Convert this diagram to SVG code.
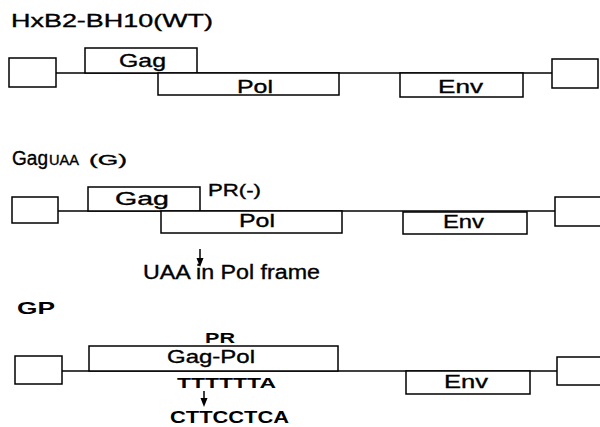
<svg xmlns="http://www.w3.org/2000/svg" width="600" height="427" viewBox="0 0 600 427">
<style>
.bx{fill:#fff;stroke:#000;stroke-width:1.5}
line{stroke:#000;stroke-width:1.5}
.ah{fill:#000}
text{font-family:"Liberation Sans",Arial,sans-serif;fill:#000;stroke:#000;stroke-width:0.35}
.b{font-weight:bold;stroke-width:0}
</style>
<rect width="600" height="427" fill="#fff"/>
<g id="connectors">
<line x1="56" y1="73" x2="552" y2="73"/>
<line x1="58" y1="211" x2="555" y2="211"/>
<line x1="62" y1="371" x2="557" y2="371"/>
<line x1="200" y1="249" x2="200" y2="260"/>
<path class="ah" d="M196.5,258 L203.5,258 L200,267 Z"/>
<line x1="204" y1="391" x2="204" y2="400"/>
<path class="ah" d="M200.5,398 L207.5,398 L204,407 Z"/>
</g>
<g id="row1">
<text id="title1" x="11" y="27" font-size="19" textLength="202" lengthAdjust="spacingAndGlyphs">HxB2-BH10(WT)</text>
<g id="r1-ltr"><rect class="bx" x="9" y="58" width="47" height="29"/></g>
<g id="r1-gag"><rect class="bx" x="85" y="48" width="112" height="25"/><text x="119" y="67" font-size="19" textLength="47" lengthAdjust="spacingAndGlyphs">Gag</text></g>
<g id="r1-pol"><rect class="bx" x="158" y="73" width="181" height="22"/><text x="237" y="93" font-size="19" textLength="36" lengthAdjust="spacingAndGlyphs">Pol</text></g>
<g id="r1-env"><rect class="bx" x="400" y="73" width="123" height="24"/><text x="438" y="93" font-size="19" textLength="45" lengthAdjust="spacingAndGlyphs">Env</text></g>
<g id="r1-rtr"><rect class="bx" x="552" y="59" width="46" height="29"/></g>
</g>
<g id="row2">
<text x="12" y="165" font-size="20" textLength="36" lengthAdjust="spacingAndGlyphs">Gag</text>
<text x="49" y="165" font-size="14" textLength="30" lengthAdjust="spacingAndGlyphs">UAA</text>
<text x="89" y="165" font-size="15" textLength="38" lengthAdjust="spacingAndGlyphs">(G)</text>
<g id="r2-ltr"><rect class="bx" x="12" y="197" width="46" height="26"/></g>
<g id="r2-gag"><rect class="bx" x="88" y="187" width="112" height="24"/><text x="115" y="205" font-size="19" textLength="54" lengthAdjust="spacingAndGlyphs">Gag</text></g>
<text id="r2-pr" x="208" y="196" font-size="16" textLength="53" lengthAdjust="spacingAndGlyphs">PR(-)</text>
<g id="r2-pol"><rect class="bx" x="161" y="211" width="181" height="22"/><text x="239" y="227" font-size="19" textLength="36" lengthAdjust="spacingAndGlyphs">Pol</text></g>
<g id="r2-env"><rect class="bx" x="403" y="212" width="124" height="22"/><text x="443" y="228" font-size="19" textLength="41" lengthAdjust="spacingAndGlyphs">Env</text></g>
<g id="r2-rtr"><rect class="bx" x="555" y="197" width="50" height="29"/></g>
<text id="r2-uaa" x="143" y="279" font-size="20" textLength="177" lengthAdjust="spacingAndGlyphs">UAA in Pol frame</text>
</g>
<g id="row3">
<text class="b" x="17" y="314" font-size="17" textLength="38" lengthAdjust="spacingAndGlyphs">GP</text>
<g id="r3-ltr"><rect class="bx" x="15" y="356" width="47" height="28"/></g>
<g id="r3-gagpol"><rect class="bx" x="89" y="346" width="249" height="25"/>
<text class="b" x="205" y="343" font-size="14" textLength="30" lengthAdjust="spacingAndGlyphs">PR</text>
<text x="167" y="363" font-size="19" textLength="88" lengthAdjust="spacingAndGlyphs">Gag-Pol</text></g>
<text class="b" x="177" y="388" font-size="15" textLength="99" lengthAdjust="spacingAndGlyphs">TTTTTTA</text>
<text class="b" x="170" y="423" font-size="16" textLength="119" lengthAdjust="spacingAndGlyphs">CTTCCTCA</text>
<g id="r3-env"><rect class="bx" x="406" y="371" width="124" height="23"/><text x="444" y="388" font-size="19" textLength="44" lengthAdjust="spacingAndGlyphs">Env</text></g>
<g id="r3-rtr"><rect class="bx" x="557" y="357" width="50" height="28"/></g>
</g>
</svg>
